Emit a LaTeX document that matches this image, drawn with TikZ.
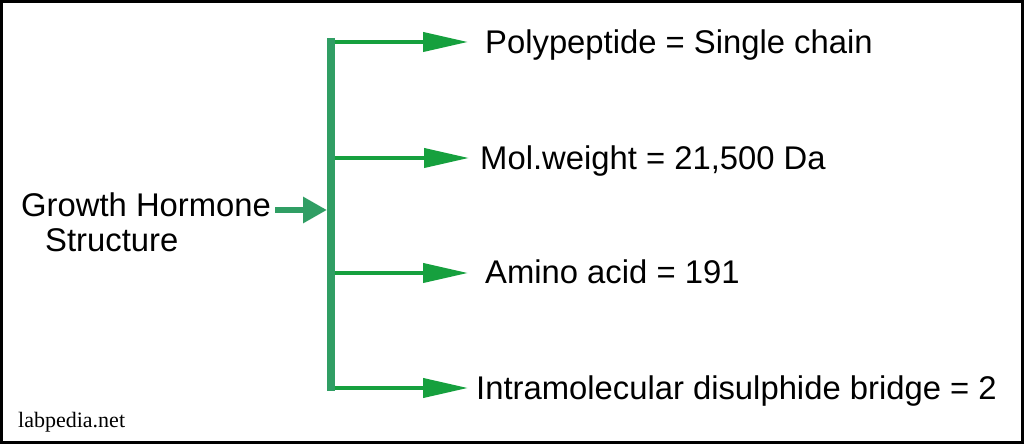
\documentclass[tikz,border=0pt]{standalone}
\usepackage{fontspec}
\setmainfont{Liberation Sans}
\newfontfamily\serifwm{Liberation Serif}
\usetikzlibrary{arrows.meta}
\definecolor{barGreen}{RGB}{48,158,100}
\definecolor{arrowGreen}{RGB}{22,160,62}
\tikzset{
  lbl/.style={anchor=base west, inner sep=0pt, font=\fontsize{32.8bp}{40bp}\selectfont},
  harrow/.style={draw=arrowGreen, line width=4bp, -{Triangle[length=45bp,width=19bp]}},
  larrow/.style={draw=barGreen, line width=6bp, -{Triangle[length=24bp,width=25bp]}},
  barline/.style={draw=barGreen, line width=8bp, line cap=butt}
}
\begin{document}
\begin{tikzpicture}[x=1bp,y=-1bp]
\useasboundingbox (0,0) rectangle (1024,444);
\draw[line width=3bp] (1.5,1.5) rectangle (1022.5,442.5);
% left label
\node[lbl] (gh) at (21,217) {Growth Hormone};
\node[lbl] (st) at (45,252) {Structure};
% bar coordinates
\coordinate (bt) at (331,38);
\coordinate (bb) at (331,391);
\coordinate (b1) at (331,42);
\coordinate (b2) at (331,158);
\coordinate (b3) at (331,273);
\coordinate (b4) at (331,388);
\coordinate (t1) at (468,42);
\coordinate (t2) at (469,158);
\coordinate (t3) at (468,273);
\coordinate (t4) at (468,388);
\coordinate (ls) at (275,210);
\coordinate (le) at (327,210);
% right labels
\node[lbl] (p1) at (485,54) {Polypeptide = Single chain};
\node[lbl] (p2) at (480,170) {Mol.weight = 21,500 Da};
\node[lbl] (p3) at (485,284) {Amino acid = 191};
\node[lbl] (p4) at (476,400) {Intramolecular disulphide bridge = 2};
% arrows
\draw[harrow] (b1) -- (t1);
\draw[harrow] (b2) -- (t2);
\draw[harrow] (b3) -- (t3);
\draw[harrow] (b4) -- (t4);
\draw[barline] (bt) -- (bb);
\draw[larrow] (ls) -- (le);
% watermark
\node[anchor=base west, inner sep=0pt, font=\serifwm\fontsize{22bp}{26bp}\selectfont] (wm) at (18,427) {labpedia.net};
\end{tikzpicture}
\end{document}
